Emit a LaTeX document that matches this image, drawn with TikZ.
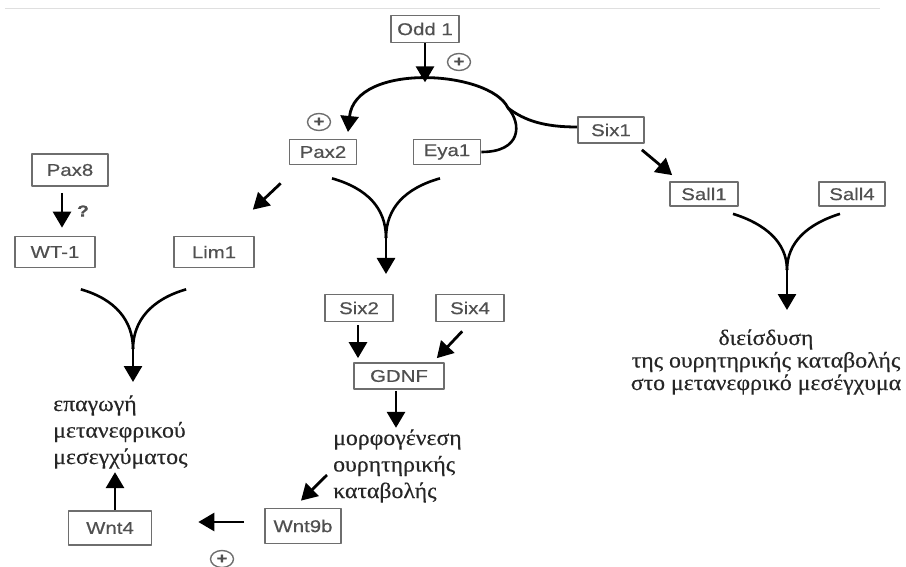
\documentclass[tikz,border=0pt]{standalone}
\usepackage{fontspec}
\usetikzlibrary{arrows.meta,shapes.geometric}
\newfontfamily\grkfont[FakeStretch=1.08,FakeBold=0.4]{Liberation Serif}
\newfontfamily\genefont[FakeStretch=1.2,FakeBold=0.6]{Liberation Sans}
\definecolor{genegray}{HTML}{505050}
\definecolor{boxgray}{HTML}{6E6E6E}

\begin{document}
\begin{tikzpicture}[x=1pt, y=-1pt, line join=round,
    gene/.style={draw=boxgray, line width=1.7pt, text=genegray, inner sep=0pt,
                 font=\genefont\fontsize{17}{20}\selectfont},
    act/.style={line width=2.8pt, -{Triangle[length=16pt,width=18pt]}},
    merge/.style={line width=2.6pt},
    plus/.style={ellipse, draw=boxgray, line width=1.4pt, text=genegray,
                 minimum width=23pt, minimum height=17pt, inner sep=0pt,
                 font=\genefont\bfseries\fontsize{15}{15}\selectfont},
    outcome/.style={text=black!85, inner sep=0pt, align=left,
                    font=\grkfont\fontsize{22}{26.5}\selectfont}]

  \useasboundingbox (0,0) rectangle (906,567);
  \draw[gray!25, line width=1pt] (5,9) -- (880,9);

  % gene boxes: name / x / y / width / height / label
  \foreach \nm/\xx/\yy/\ww/\hh/\lbl in {
      odd1/425/29/68/27/Odd 1,
      pax2/323/152/67/25/Pax2,
      eya1/447/152/67/25/Eya1,
      six1/611/130/66/26/Six1,
      sall1/704/194/68/24/Sall1,
      sall4/852/194/66/24/Sall4,
      pax8/70/170/76/32/Pax8,
      wt1/55/252/80/31/WT-1,
      lim1/214/252/80/31/Lim1,
      six2/359/308/68/27/Six2,
      six4/470/308/68/27/Six4,
      gdnf/399/376/90/26/GDNF,
      wnt4/110/528/83/34/Wnt4,
      wnt9b/303/526/76/35/Wnt9b}
    \node[gene, minimum width=\ww pt, minimum height=\hh pt] (\nm) at (\xx,\yy) {\lbl};

  % outcomes (base = last line)
  \node[outcome, anchor=base west] (induct) at (53,464)
    {επαγωγή\\μετανεφρικού\\μεσεγχύματος};
  \node[outcome, anchor=base west] (morpho) at (333,498)
    {μορφογένεση\\ουρητηρικής\\καταβολής};
  \node[outcome, align=center, anchor=base,
        font=\grkfont\fontsize{22}{22.5}\selectfont] (invade) at (766,390)
    {διείσδυση\\της ουρητηρικής καταβολής\\στο μετανεφρικό μεσέγχυμα};

  % signs
  \node[plus] (plusA) at (459,62) {+};
  \node[plus] (plusB) at (319,122) {+};
  \node[plus] (plusC) at (222,559) {+};
  \node[text=genegray, font=\genefont\bfseries\fontsize{16}{16}\selectfont] (query) at (83,211) {?};

  % junctions
  \coordinate (fork) at (508,108);
  \coordinate (pax2in) at (348,132);
  \coordinate (forkA) at (133,349);
  \coordinate (tipA) at (133,382);
  \coordinate (forkB) at (386,238);
  \coordinate (tipB) at (386,274);
  \coordinate (forkC) at (787,270);
  \coordinate (tipC) at (787,310);

  % Odd1 / Six1 / Eya1 loop
  \draw[act] (odd1.south) -- ([shift={(0,39)}]odd1.south);
  \draw[act] ([shift={(0,-3)}]six1.west) .. controls (545,127) and (525,121) .. (fork)
    .. controls (490,70) and (355,62) .. (pax2in);
  \draw[merge] (eya1.east) .. controls +(40,0) and +(14,16) .. (fork);

  % single arrows
  \draw[act] ([shift={(-3,6)}]six1.south east) -- ([shift={(3,-6)}]sall1.north west);
  \draw[act] ([shift={(-8,18)}]pax2.south west) -- ([shift={(-2,-26)}]lim1.north east);
  \draw[act] ([shift={(-8,6)}]pax8.south) -- ([shift={(7,-8)}]wt1.north);
  \draw[act] ([shift={(-1,3)}]six2.south) -- ([shift={(-1,-4)}]six2.south |- gdnf.north);
  \draw[act] ([shift={(27,9)}]six4.south west) -- ([shift={(-8,-4)}]gdnf.north east);
  \draw[act] ([shift={(-3,1)}]gdnf.south) -- ([shift={(-3,38)}]gdnf.south);
  \draw[act] ([shift={(-6,-23)}]morpho.base west) -- ([shift={(-2,-7)}]wnt9b.north);
  \draw[act] ([shift={(-20,-4)}]wnt9b.west) -- ([shift={(46,-6)}]wnt4.east);
  \draw[act] ([shift={(5,0)}]wnt4.north) -- ([shift={(5,-38)}]wnt4.north);

  % merging arrows
  \draw[merge] ([shift={(-15,21)}]wt1.south east) .. controls +(35,10) and +(0,-28) .. (forkA);
  \draw[merge] ([shift={(13,21)}]lim1.south west) .. controls +(-35,10) and +(0,-28) .. (forkA);
  \draw[act] (forkA) -- (tipA);

  \draw[merge] ([shift={(9,13)}]pax2.south) .. controls +(35,10) and +(0,-30) .. (forkB);
  \draw[merge] ([shift={(-7,13)}]eya1.south) .. controls +(-35,10) and +(0,-30) .. (forkB);
  \draw[act] (forkB) -- (tipB);

  \draw[merge] ([shift={(29,7)}]sall1.south) .. controls +(32,10) and +(0,-28) .. (forkC);
  \draw[merge] ([shift={(-12,7)}]sall4.south) .. controls +(-32,10) and +(0,-28) .. (forkC);
  \draw[act] (forkC) -- (tipC);
\end{tikzpicture}
\end{document}
